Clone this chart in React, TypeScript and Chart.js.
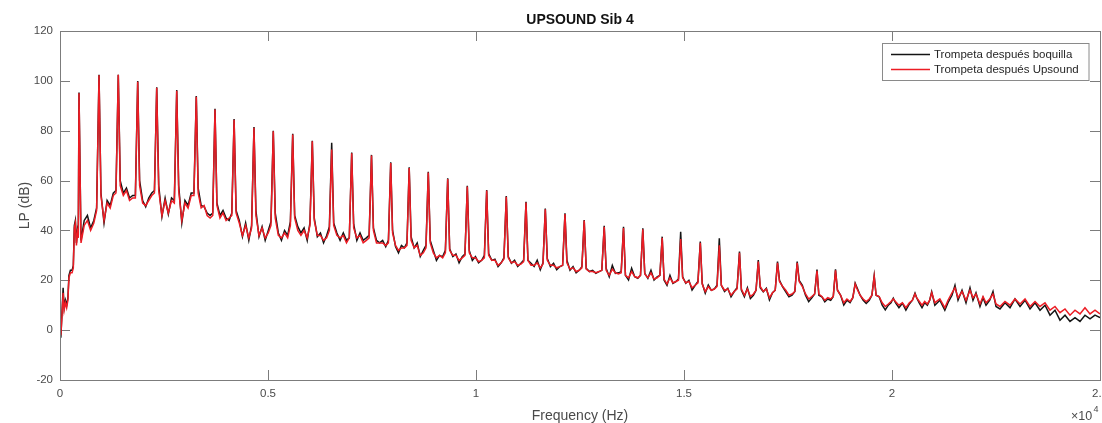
import React, { useEffect, useRef } from "react";
import { Chart, registerables } from "chart.js";

Chart.register(...registerables);

// ---------- DATA ----------
const chartTitle = "UPSOUND Sib 4";
const xLabel = "Frequency (Hz)";
const yLabel = "LP (dB)";
const seriesNames = ["Trompeta después boquilla", "Trompeta después Upsound"];

const xTicks = [0, 5000, 10000, 15000, 20000, 25000];
const xTickLabels = ["0", "0.5", "1", "1.5", "2", "2.5"];
const yTicks = [-20, 0, 20, 40, 60, 80, 100, 120];

// harmonic peak frequencies (Hz)
const peakHz = [457, 938, 1401, 1868, 2325, 2806, 3276, 3726, 4185, 4663, 5127, 5594, 6065, 6531, 7012, 7488, 7950, 8394, 8853, 9320, 9791, 10257, 10728, 11202, 11666, 12139, 12601, 13082, 13546, 14010, 14476, 14920, 15392, 15849, 16334, 16786, 17248, 17721, 18197, 18642, 19115, 19572, 20031, 20553, 20954];

// peak levels (dB)
const blackPeaks = [95.3, 102.4, 102.4, 99.9, 97.4, 96.3, 93.9, 88.8, 84.7, 81.5, 80, 78.8, 76, 75.2, 71.3, 70.3, 67.3, 65.3, 63.5, 60.9, 57.9, 56.2, 53.8, 51.5, 48.8, 46.9, 44.2, 41.9, 41.5, 40.9, 37.5, 39.5, 35.5, 36.8, 31.5, 28.1, 27.5, 27.5, 24.3, 24.4, 18.8, 21.8, 12.8, 14.8, 15.4];
const redPeaks = [95, 102.2, 102.4, 99.6, 97.2, 96, 93.6, 88.5, 84.4, 81.2, 79.8, 78.5, 75.8, 72.5, 71, 70, 67, 65, 63.2, 60.6, 57.6, 56, 53.5, 51.2, 48.5, 46.6, 44, 41.5, 41, 40.5, 37, 36.5, 35, 34, 31, 27.5, 27, 27, 23.8, 24, 18.5, 21.5, 12.5, 14.5, 15];

// low-frequency start (Hz, dB) before the first harmonic
const blackLow = [[0, 1], [20, -3], [45, 6], [75, 17], [100, 9], [130, 12], [160, 10], [190, 13], [215, 22], [250, 24], [290, 24], [320, 26], [345, 42], [370, 44], [395, 35], [420, 40], [440, 38]];
const redLow = [[0, 0], [20, -2], [45, 5], [75, 15], [100, 8], [130, 11], [160, 9], [190, 12], [215, 21], [250, 23], [290, 23], [320, 25], [345, 41], [370, 43], [395, 34], [420, 39], [440, 37]];

// noise floor between consecutive harmonics (6 readings per gap)
const blackFloor = [
  [36, 44, 46, 41, 44, 49], [55, 43, 52, 50, 55, 56], [60, 55, 57, 53, 54, 54], [60, 52, 49.5, 53, 55, 56],
  [58, 45.5, 53, 46.5, 53, 52], [58, 43, 52, 50, 55, 55], [57, 50, 49.5, 47, 46, 47], [51, 46, 48, 45, 44, 47],
  [48, 44, 37.5, 43, 36, 42], [48, 37.5, 41.5, 36, 40, 43.5], [47, 39, 36, 40, 38, 43.5], [46, 41.5, 39, 41, 36, 43],
  [45, 37.5, 39, 35, 38, 41.5], [43, 39, 36, 39, 36, 37], [42.5, 36, 39, 36, 37, 38], [41, 36, 35, 36, 33.5, 36],
  [40, 33.5, 31, 34, 33, 35], [37.5, 33, 35, 29.5, 32, 34], [36, 32, 28, 30, 29.5, 32], [32.6, 29.5, 30.5, 27, 29.5, 30.5],
  [32, 28, 29.5, 27, 28, 30], [30.7, 28, 28.5, 25.5, 27, 29], [29.5, 26.8, 28, 25.5, 26.8, 28], [28, 26.8, 25.5, 28, 24.2, 27],
  [28.7, 25.5, 26.8, 24.2, 25.5, 26], [28, 24, 25.5, 23, 24, 25.5], [24.8, 23.5, 24, 22.8, 23.5, 24], [24.8, 21.4, 26, 22.8, 23, 23.5],
  [22, 20.1, 24.8, 21.4, 20.8, 22], [22.8, 20.8, 24, 20.1, 21.4, 22], [20.1, 18, 22, 18.8, 19.5, 20.5], [21.4, 18.8, 20, 16.1, 18, 19.5],
  [18.8, 14.8, 18.1, 16, 16.5, 18], [18, 15.5, 16.8, 13.4, 15.5, 17], [16.1, 13.4, 17, 12.7, 14, 16], [17, 15.4, 16.8, 12.1, 15, 16],
  [20, 17.4, 15.4, 13.4, 14, 15.5], [20, 18, 14, 11.4, 13, 14.5], [14, 13.4, 11.4, 12.5, 12, 13.5], [16, 14, 10.1, 12, 11, 13],
  [17, 14, 12, 10.7, 12, 14], [14, 13.4, 10, 8.1, 10, 11], [11, 9, 10.8, 8, 10.5, 12], [13, 10.8, 9, 11, 10, 12],
];
const redFloor = [
  [35, 42, 44, 40, 43, 48], [54, 44, 51, 49, 54, 55], [58, 54, 56, 52, 53, 53], [58, 51, 50, 52, 54, 55],
  [56, 46, 52, 47, 52, 51], [56, 44, 51, 49, 54, 54], [55, 49, 50, 46, 45, 46], [50, 45, 47, 44, 45, 46],
  [47, 43, 38, 42, 37, 41], [46, 38, 41, 37, 39, 42], [45, 38, 37, 39, 37, 42], [45, 40, 38, 40, 37, 42],
  [44, 38, 38, 36, 37, 40], [42, 38, 37, 38, 35, 37], [41, 37, 38, 35, 36, 37], [40, 35, 35, 35, 34, 35],
  [39, 34, 32, 33, 33, 34], [36, 33, 34, 30, 31, 33], [35, 31, 29, 30, 29, 31], [32, 30, 30, 28, 29, 30],
  [31, 29, 29, 27.5, 28, 29], [30, 28, 28, 26, 27, 28.5], [29, 27, 27.5, 26, 26.5, 27.5], [28, 26, 26, 27, 25, 26.5],
  [28, 26, 26, 25, 25.5, 26], [27, 24.5, 25, 23.5, 24, 25], [24.5, 23.5, 23.5, 23, 23.5, 24], [24, 22, 24.5, 23, 22.5, 23],
  [22, 21, 23.5, 21.5, 21, 22], [22.5, 21, 23, 20.5, 21, 22], [20.5, 18.5, 21, 19, 19.5, 20], [21, 19, 19.5, 17, 18, 19],
  [18.5, 15.5, 17.5, 16, 16.5, 17.5], [18, 16, 16.5, 14, 15.5, 16.5], [16.5, 14, 16.5, 13.5, 14.5, 16], [17.5, 15.5, 16.5, 13, 15, 16],
  [19.5, 17.5, 16, 14, 14.5, 15.5], [19.5, 17.5, 14.5, 12.5, 13.5, 14.5], [14.5, 13.5, 12, 13, 12.5, 13.5], [16, 14, 11, 12.5, 11.5, 13],
  [16.5, 14, 12.5, 11.5, 12.5, 14], [14, 13.5, 11, 9.5, 10.5, 11.5], [11.5, 10, 11, 9, 11, 12], [13, 11.5, 10, 11.5, 10.5, 12],
];

// high-frequency tail (Hz, dB) after the last visible harmonic
const blackTail = [[21030, 10], [21150, 12], [21270, 8], [21346, 11], [21442, 14], [21514, 18], [21587, 12], [21683, 16], [21779, 11], [21875, 17], [21947, 12], [22019, 15], [22115, 9.5], [22188, 13], [22260, 10], [22350, 12], [22428, 15.5], [22500, 9.5], [22596, 8.5], [22716, 11], [22837, 9], [22957, 12.5], [23078, 9.5], [23198, 12], [23318, 8.5], [23438, 11], [23558, 8], [23678, 10], [23798, 6], [23918, 8], [24038, 4], [24159, 6], [24279, 3.5], [24399, 5], [24519, 3.5], [24639, 6], [24760, 4.5], [24880, 6], [25000, 5]];
const redTail = [[21030, 11], [21150, 12.5], [21270, 9], [21346, 12], [21442, 15], [21514, 17], [21587, 13], [21683, 15.5], [21779, 12], [21875, 16], [21947, 13], [22019, 14.5], [22115, 10.5], [22188, 13.5], [22260, 11], [22350, 12.5], [22428, 14.5], [22500, 10.5], [22596, 9.5], [22716, 11.5], [22837, 10], [22957, 12.5], [23078, 10.5], [23198, 12.5], [23318, 9.5], [23438, 11.5], [23558, 9.5], [23678, 11], [23798, 8], [23918, 9.5], [24038, 7], [24159, 8.5], [24279, 6], [24399, 8], [24519, 6.5], [24639, 9], [24760, 6.5], [24880, 8], [25000, 6.5]];

// where the 6 floor readings sit inside each gap
const FLOOR_FRACTIONS = [0.1, 0.26, 0.42, 0.58, 0.74, 0.88];

function buildSeries(low: number[][], peaks: number[], floors: number[][], tail: number[][]) {
  const pts: { x: number; y: number }[] = low.map(([x, y]) => ({ x, y }));
  peakHz.forEach((hz, i) => {
    pts.push({ x: hz, y: peaks[i] });
    if (i < floors.length && i + 1 < peakHz.length) {
      const next = peakHz[i + 1];
      floors[i].forEach((v, j) => pts.push({ x: hz + FLOOR_FRACTIONS[j] * (next - hz), y: v }));
    }
  });
  tail.forEach(([x, y]) => pts.push({ x, y }));
  return pts;
}

const FONT = '"Liberation Sans", Arial, Helvetica, sans-serif';
const BLACK = "#141414";
const RED = "#ec1c24";

export default function App() {
  const ref = useRef<HTMLCanvasElement | null>(null);

  useEffect(() => {
    const canvas = ref.current;
    if (!canvas) return;

    const decor = {
      id: "matlabDecor",
      beforeDatasetsDraw(chart: any) {
        const { ctx, chartArea } = chart;
        const { left, right, top, bottom } = chartArea;
        const xs = chart.scales.x;
        const ys = chart.scales.y;
        ctx.save();
        ctx.strokeStyle = "#7c7c7c";
        ctx.lineWidth = 1;
        ctx.beginPath();
        const tl = 10;
        xTicks.forEach((t) => {
          const px = Math.round(xs.getPixelForValue(t)) + 0.5;
          ctx.moveTo(px, bottom);
          ctx.lineTo(px, bottom - tl);
          ctx.moveTo(px, top);
          ctx.lineTo(px, top + tl);
        });
        yTicks.forEach((t) => {
          const py = Math.round(ys.getPixelForValue(t)) + 0.5;
          ctx.moveTo(left, py);
          ctx.lineTo(left + tl, py);
          ctx.moveTo(right, py);
          ctx.lineTo(right - tl, py);
        });
        ctx.stroke();
        ctx.restore();
      },
      afterDraw(chart: any) {
        const { ctx, chartArea } = chart;
        const { left, right, top, bottom } = chartArea;
        ctx.save();
        // box
        ctx.strokeStyle = "#7c7c7c";
        ctx.lineWidth = 1;
        ctx.strokeRect(Math.round(left) + 0.5, Math.round(top) + 0.5, Math.round(right - left), Math.round(bottom - top));

        // title
        ctx.fillStyle = "#111";
        ctx.font = `bold 14px ${FONT}`;
        ctx.textAlign = "center";
        ctx.textBaseline = "alphabetic";
        ctx.fillText(chartTitle, (left + right) / 2, 24);

        // axis labels
        ctx.fillStyle = "#4a4a4a";
        ctx.font = `14px ${FONT}`;
        ctx.fillText(xLabel, (left + right) / 2, 419.5);
        ctx.save();
        ctx.translate(28.5, (top + bottom) / 2);
        ctx.rotate(-Math.PI / 2);
        ctx.fillText(yLabel, 0, 0);
        ctx.restore();

        // x10^4 exponent
        ctx.textAlign = "left";
        ctx.font = `12.5px ${FONT}`;
        ctx.fillText("\u00d710", 1071, 420);
        ctx.font = `9px ${FONT}`;
        ctx.fillText("4", 1093.5, 412);

        // legend
        const lx = 882.5, ly = 43.5, lw = 206.5, lh = 37;
        ctx.fillStyle = "#ffffff";
        ctx.fillRect(lx, ly, lw, lh);
        ctx.strokeStyle = "#8a8a8a";
        ctx.lineWidth = 1;
        ctx.strokeRect(lx, ly, lw, lh);
        const rows = [
          { name: seriesNames[0], color: BLACK, y: 54.5 },
          { name: seriesNames[1], color: RED, y: 69.5 },
        ];
        ctx.font = `11.5px ${FONT}`;
        ctx.textBaseline = "middle";
        rows.forEach((r) => {
          ctx.strokeStyle = r.color;
          ctx.lineWidth = 1.4;
          ctx.beginPath();
          ctx.moveTo(891, r.y);
          ctx.lineTo(930, r.y);
          ctx.stroke();
          ctx.fillStyle = "#262626";
          ctx.fillText(r.name, 934, r.y + 0.5);
        });
        ctx.restore();
      },
    };

    const chart = new Chart(canvas, {
      type: "line",
      data: {
        datasets: [
          {
            label: seriesNames[1],
            data: buildSeries(redLow, redPeaks, redFloor, redTail),
            borderColor: RED,
            borderWidth: 1.5,
            pointRadius: 0,
            tension: 0,
            fill: false,
            order: 0,
          },
          {
            label: seriesNames[0],
            data: buildSeries(blackLow, blackPeaks, blackFloor, blackTail),
            borderColor: BLACK,
            borderWidth: 1.5,
            pointRadius: 0,
            tension: 0,
            fill: false,
            order: 1,
          },
        ],
      },
      options: {
        responsive: false,
        animation: false,
        events: [],
        layout: { padding: { top: 31, right: 20, bottom: 0, left: 0 } },
        plugins: {
          legend: { display: false },
          title: { display: false },
          tooltip: { enabled: false },
        },
        scales: {
          x: {
            type: "linear",
            min: 0,
            max: 25000,
            afterFit: (s: any) => {
              s.height = 43;
            },
            afterBuildTicks: (s: any) => {
              s.ticks = xTicks.map((v) => ({ value: v }));
            },
            ticks: {
              autoSkip: false,
              maxRotation: 0,
              padding: 7,
              color: "#4a4a4a",
              font: { family: FONT, size: 11.5 },
              callback: (v: any) => {
                const i = xTicks.indexOf(Number(v));
                return i >= 0 ? xTickLabels[i] : "";
              },
            },
            grid: { display: false, drawTicks: false },
            border: { display: false },
          },
          y: {
            type: "linear",
            min: -20,
            max: 120,
            afterFit: (s: any) => {
              s.width = 60;
            },
            afterBuildTicks: (s: any) => {
              s.ticks = yTicks.map((v) => ({ value: v }));
            },
            ticks: {
              padding: 7,
              color: "#4a4a4a",
              font: { family: FONT, size: 11.5 },
              callback: (v: any) => String(v),
            },
            grid: { display: false, drawTicks: false },
            border: { display: false },
          },
        },
      },
      plugins: [decor],
    } as any);

    return () => {
      chart.destroy();
    };
  }, []);

  return (
    <div
      style={{
        position: "fixed",
        left: 0,
        top: 0,
        width: 1102,
        height: 423,
        overflow: "hidden",
        background: "#ffffff",
      }}
    >
      <canvas ref={ref} width={1120} height={423} style={{ display: "block", width: 1120, height: 423 }} />
    </div>
  );
}
